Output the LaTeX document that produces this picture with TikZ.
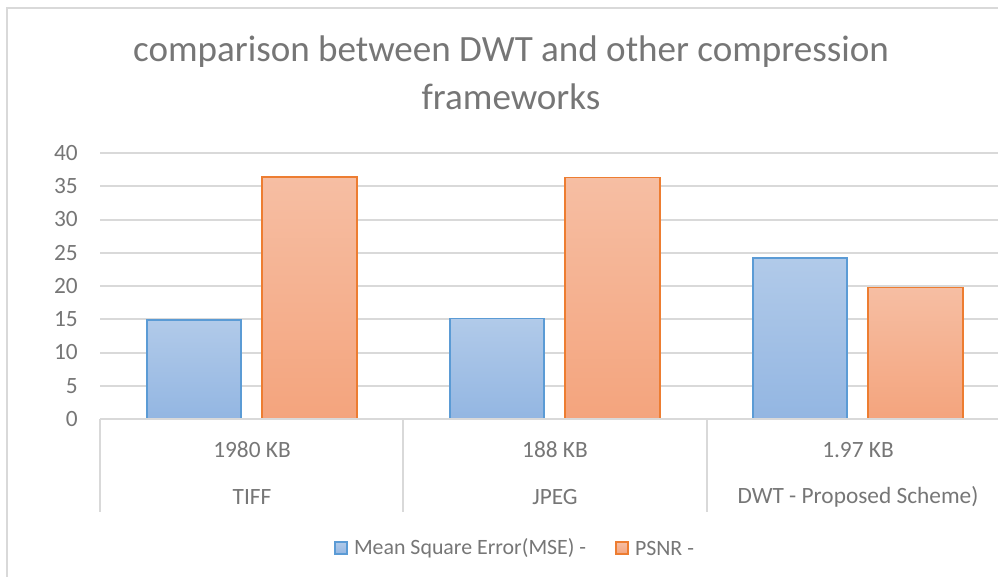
\documentclass[tikz,border=0pt]{standalone}
\usepackage{fontspec}
\setmainfont{Carlito}
\usetikzlibrary{positioning}

\definecolor{txtgray}{HTML}{767676}
\definecolor{linegray}{HTML}{D9D9D9}
\definecolor{mseline}{HTML}{5B9BD5}
\definecolor{msetop}{HTML}{B1CAE9}
\definecolor{msebot}{HTML}{93B6E2}
\definecolor{psnrline}{HTML}{ED7D31}
\definecolor{psnrtop}{HTML}{F6BEA3}
\definecolor{psnrbot}{HTML}{F4A47D}

\tikzset{
  gridline/.style={draw=linegray, line width=1.5pt},
  msebar/.style={draw=mseline, line width=1.1pt, top color=msetop, bottom color=msebot},
  psnrbar/.style={draw=psnrline, line width=1.1pt, top color=psnrtop, bottom color=psnrbot},
  ticklabel/.style={text=txtgray, font=\fontsize{17.5}{20}\selectfont, inner sep=0pt},
  leglabel/.style={text=txtgray, font=\fontsize{16.4}{19}\selectfont, inner sep=0pt},
}

\begin{document}
\begin{tikzpicture}[x=0.75pt,y=-0.75pt]
  \useasboundingbox (0,0) rectangle (998,577);
  \draw[linegray, line width=1.5pt] (7,577) -- (7,8) -- (998,8);

  % title
  \begin{scope}[every node/.style={text=txtgray, font=\fontsize{27.8}{33}\selectfont, inner sep=0pt}]
    \node (title1) at (511,52) {comparison between DWT and other compression};
    \node (title2) at (511,97) {frameworks};
  \end{scope}

  % value axis and grid
  \foreach \v in {5,10,...,40}
    \draw[gridline] (100,{419-6.65*\v}) -- (1010,{419-6.65*\v});
  \begin{scope}[every node/.style={ticklabel, anchor=east}]
    \foreach \v in {0,5,...,40}
      \node (y\v) at (78,{419-6.65*\v}) {\v};
  \end{scope}

  % bars
  \foreach \c/\m/\p in {252/14.9/36.4, 555/15.1/36.3, 858/24.2/19.8} {
    \draw[msebar]  (\c-105,419) rectangle (\c-11,{419-6.65*\m});
    \draw[psnrbar] (\c+10,419) rectangle (\c+105,{419-6.65*\p});
  }

  % category axis
  \draw[gridline] (100,419) -- (1010,419);
  \foreach \x in {100,403,707,1010}
    \draw[gridline] (\x,419) -- (\x,512);
  \begin{scope}[every node/.style={ticklabel}]
    \node (size1) at (252,450) {1980 KB};
    \node (size2) at (555,450) {188 KB};
    \node (size3) at (858,450) {1.97 KB};
    \node (fmt1)  at (252,497) {TIFF};
    \node (fmt2)  at (555,497) {JPEG};
    \node (fmt3)  at (858,497) {DWT - Proposed Scheme)};
  \end{scope}

  % legend
  \begin{scope}[every node/.style={leglabel}]
    \node[msebar, minimum size=9pt] (keymse) at (341,548) {};
    \node[right=4.5pt of keymse] (legmse) {Mean Square Error(MSE) -};
    \node[psnrbar, minimum size=9pt] (keypsnr) at (622,548) {};
    \node[right=4.5pt of keypsnr] (legpsnr) {PSNR -};
  \end{scope}
\end{tikzpicture}
\end{document}
